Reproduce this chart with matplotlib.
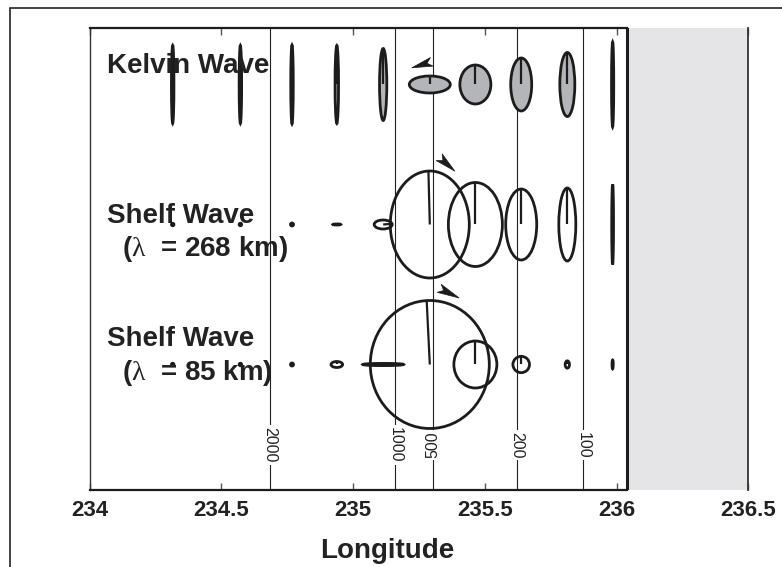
import numpy as np
import matplotlib
matplotlib.use("Agg")
import matplotlib.pyplot as plt
from matplotlib.patches import Ellipse, Polygon, Rectangle

plt.rcParams["font.family"] = ["Liberation Sans", "DejaVu Sans"]
plt.rcParams["mathtext.fontset"] = "custom"
plt.rcParams["mathtext.rm"] = "Liberation Serif"

# station longitudes (same for all three rows)
station_lon = [234.315, 234.572, 234.768, 234.938, 235.114,
               235.291, 235.464, 235.638, 235.813, 235.985]

row_names = ["Kelvin Wave", "Shelf Wave", "Shelf Wave"]
row_subs = ["", r"($\mathrm{\lambda}$  = 268 km)", r"($\mathrm{\lambda}$  = 85 km)"]

# ellipse extents (east-west, north-south) and phase (deg clockwise from north)
kelvin_ew = [2.5, 2.5, 2.5, 3.5, 7.3, 41, 31, 21, 15, 2.2]
kelvin_ns = [78, 78, 79, 78, 72, 17, 39, 53, 64, 85]
kelvin_phase = [0, 0, 0, 0, 0, 0, 0, 0, 0, 0]

shelf268_ew = [2.5, 2.5, 3, 8, 18, 79, 54, 31, 17, 1.8]
shelf268_ns = [2.5, 2.5, 3, 1, 9, 107, 84, 71, 73, 80]
shelf268_phase = [0, 0, 0, 90, 80, -2, 0, 0, 0, 0]

shelf85_ew = [2.5, 2.5, 3, 11.6, 41, 119, 43, 16.6, 4.3, 1.2]
shelf85_ns = [2.5, 2.5, 3, 6, 2.2, 128, 47, 16.3, 7.3, 9]
shelf85_phase = [0, 0, 0, 0, 90, -3, 0, 0, 0, 0]

# isobaths
depth_lon = [234.684, 235.159, 235.303, 235.621, 235.872]
depth_labels = ["2000", "1000", "500", "200", "100"]
coast_lon = 236.04

W, H, DPI = 7.82, 5.67, 100
left, right, bottom, top = 0.1147, 0.9569, 0.1358, 0.9501
row_gap = 140
xlim = (234, 236.5)
ylim = (-2 * row_gap - 125.5, 56.2)

fig = plt.figure(figsize=(W, H), dpi=DPI)
ax = fig.add_axes([left, bottom, right - left, top - bottom])
ax.set_xlim(*xlim)
ax.set_ylim(*ylim)

ax_w = W * DPI * (right - left)
ax_h = H * DPI * (top - bottom)
deg_per_unit = ((xlim[1] - xlim[0]) / ax_w) / ((ylim[1] - ylim[0]) / ax_h)

ink = "#1c1c1c"
ax.axvspan(coast_lon, xlim[1], color="#e5e5e7", zorder=0, lw=0)
ax.axvline(coast_lon, color=ink, lw=2.2, zorder=1)

for lon, lab in zip(depth_lon, depth_labels):
    ax.axvline(lon, color="#222222", lw=0.8, zorder=1)
    rot = 90 if lab == "500" else 270
    ax.text(lon, ylim[0] + 45, lab, rotation=rot, ha="center", va="center",
            fontsize=11.5, color="#222222", zorder=2,
            bbox=dict(facecolor="white", edgecolor="none", pad=1.5))

rows = [
    (kelvin_ew, kelvin_ns, kelvin_phase, "#b4b5b8"),
    (shelf268_ew, shelf268_ns, shelf268_phase, "none"),
    (shelf85_ew, shelf85_ns, shelf85_phase, "none"),
]

for i, (ew, ns, ph, fc) in enumerate(rows):
    yc = -row_gap * i
    for lon, e, n, p in zip(station_lon, ew, ns, ph):
        face = ink if max(e, n) <= 3 else fc
        ax.add_patch(Ellipse((lon, yc), e * deg_per_unit, n, facecolor=face,
                             edgecolor=ink, lw=2.0, zorder=4))
        t = np.radians(p)
        ax.plot([lon, lon + 0.5 * e * np.sin(t) * deg_per_unit],
                [yc, yc + 0.5 * n * np.cos(t)], color=ink, lw=1.6, zorder=5,
                solid_capstyle="butt")

# rotation arrows: (row, station, tail dx, dy, tip dx, dy) relative to ellipse centre
arrows = [(0, 5, 2, 22.7, -18, 16.7),
          (1, 5, 9.4, 67.3, 25.1, 53.3),
          (2, 5, 9.4, 76.2, 29.4, 66.5)]
for r, s, tx, ty, px, py in arrows:
    tail = np.array([tx, ty])
    tip = np.array([px, py])
    d = tip - tail
    d = d / np.hypot(*d)
    nrm = np.array([-d[1], d[0]])
    pts = [tip, tail + nrm * 4.5, tail + d * 5, tail - nrm * 4.5]
    xy = [(station_lon[s] + q[0] * deg_per_unit, -row_gap * r + q[1]) for q in pts]
    ax.add_patch(Polygon(xy, closed=True, facecolor=ink, edgecolor=ink, lw=0.5, zorder=6))

# row labels
def fig_xy(px, py):
    return px / (W * DPI), 1 - py / (H * DPI)

label_pos = [((107, 72.7), None), ((107, 222.7), (122, 256)), ((107, 346), (122, 380))]
for name, sub, (p1, p2) in zip(row_names, row_subs, label_pos):
    fig.text(*fig_xy(*p1), name, fontsize=20, fontweight="bold", color="#222222",
             va="baseline", ha="left", zorder=3)
    if p2 is not None:
        fig.text(*fig_xy(*p2), sub, fontsize=20, fontweight="bold", color="#222222",
                 va="baseline", ha="left", zorder=3)

# spines and ticks
for side in ["top", "bottom"]:
    ax.spines[side].set_visible(False)
frac = (coast_lon - xlim[0]) / (xlim[1] - xlim[0])
ax.axhline(ylim[1], xmax=frac, color=ink, lw=1.6, zorder=7, clip_on=False)
ax.axhline(ylim[0], xmax=frac, color=ink, lw=1.6, zorder=7, clip_on=False)
ax.spines["left"].set_color("#333333")
ax.spines["left"].set_linewidth(1.0)
ax.spines["right"].set_color("#333333")
ax.spines["right"].set_linewidth(1.3)

ax.set_xticks([234, 234.5, 235, 235.5, 236, 236.5])
ax.set_xticklabels(["234", "234.5", "235", "235.5", "236", "236.5"],
                   fontsize=16, fontweight="bold", color="#222222")
ax.tick_params(axis="x", direction="in", length=5, width=1, color="#555555",
               top=True, pad=7.5)
ax.set_yticks([])

fig.text(387.5 / (W * DPI), 1 - 558.3 / (H * DPI), "Longitude", fontsize=20,
         fontweight="bold", color="#222222", ha="center", va="baseline")

# outer frame (only left and top edges fall inside the image)
fig.patches.append(Rectangle((10 / (W * DPI), -0.05), 1.0, 1.05 - 8 / (H * DPI),
                             transform=fig.transFigure, fill=False,
                             edgecolor="#222222", lw=1.2))

fig.savefig("out.png", dpi=DPI)
